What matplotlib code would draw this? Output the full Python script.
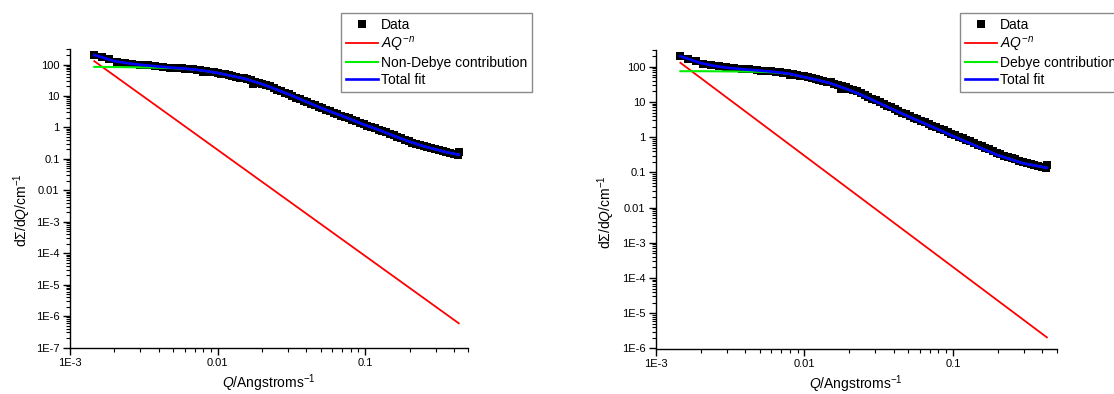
import matplotlib
matplotlib.use("Agg")
import matplotlib.pyplot as plt
from matplotlib.ticker import LogLocator, FixedLocator, FixedFormatter, NullFormatter

plt.rcParams['font.family'] = ['Liberation Sans', 'DejaVu Sans']
plt.rcParams['mathtext.fontset'] = 'custom'
plt.rcParams['mathtext.rm'] = 'Liberation Sans'
plt.rcParams['mathtext.it'] = 'Liberation Sans:italic'
plt.rcParams['mathtext.bf'] = 'Liberation Sans:bold'

# ---- measured data (shared by both panels) ----
q_data = [0.00146, 0.00165, 0.00185, 0.00208, 0.00234, 0.00264, 0.00297, 0.00335, 0.00377, 0.00424,
          0.00478, 0.0051, 0.0054, 0.0057, 0.0060, 0.0064, 0.0068, 0.0072, 0.0076, 0.0080,
          0.0084, 0.0089, 0.0094, 0.0100, 0.0106, 0.0112, 0.0119, 0.0126, 0.0134, 0.0142,
          0.0150, 0.0159, 0.0169, 0.0175, 0.0179, 0.0190, 0.0201, 0.0213, 0.0226, 0.0240,
          0.0254, 0.0270, 0.0286, 0.0303, 0.0321, 0.0341, 0.0361, 0.0383, 0.0406, 0.0430,
          0.0456, 0.0484, 0.0513, 0.0544, 0.0577, 0.0611, 0.0648, 0.0687, 0.0729, 0.0773,
          0.0819, 0.0869, 0.0921, 0.0977, 0.1036, 0.1098, 0.1164, 0.1234, 0.1309, 0.1388,
          0.1471, 0.156, 0.165, 0.175, 0.186, 0.197, 0.209, 0.222, 0.235, 0.249,
          0.264, 0.280, 0.297, 0.315, 0.334, 0.354, 0.375, 0.398, 0.422, 0.43]
i_data = [205, 172, 145, 124, 112, 104, 97, 93, 89, 85,
          80, 78.5, 77, 75.5, 74, 72, 70, 68, 66, 58,
          61, 59, 56.5, 54, 51, 48.5, 45.5, 43, 40.5, 38,
          36, 33.5, 31, 24, 28.5, 26.5, 24, 22, 20, 17.5,
          15.8, 14, 12.5, 11.2, 10, 8.9, 7.9, 7.0, 6.3, 5.6,
          5.0, 4.45, 4.0, 3.6, 3.25, 2.92, 2.63, 2.37, 2.13, 1.93,
          1.74, 1.56, 1.40, 1.25, 1.12, 1.02, 0.93, 0.84, 0.76, 0.69,
          0.62, 0.56, 0.50, 0.45, 0.40, 0.36, 0.33, 0.30, 0.28, 0.255,
          0.235, 0.218, 0.202, 0.188, 0.175, 0.163, 0.153, 0.144, 0.136, 0.16]

# ---- fit curves ----
q_fit = [0.00146, 0.0016, 0.0018, 0.002, 0.0025, 0.003, 0.004, 0.005, 0.006, 0.007,
         0.008, 0.01, 0.012, 0.015, 0.02, 0.025, 0.03, 0.04, 0.05, 0.06,
         0.07, 0.08, 0.1, 0.12, 0.15, 0.2, 0.25, 0.3, 0.35, 0.43]
total_left = [200, 178, 148, 128, 108, 98, 86, 79, 74, 69,
              64, 54, 45, 36, 24, 16, 11.5, 6.5, 4.2, 3.0,
              2.3, 1.8, 1.18, 0.88, 0.58, 0.35, 0.25, 0.2, 0.165, 0.135]
green_left = [84, 84, 83.5, 83, 82, 81, 79, 76.5, 73, 68.5,
              63.5, 53.8, 45, 36, 24, 16, 11.5, 6.5, 4.2, 3.0,
              2.3, 1.8, 1.18, 0.88, 0.58, 0.35, 0.25, 0.2, 0.165, 0.135]
total_right = [200, 175, 148, 128, 105, 94, 84, 78, 73, 68,
               63, 51, 43, 34, 22, 15, 10.5, 6.0, 3.9, 2.8,
               2.1, 1.65, 1.08, 0.78, 0.52, 0.31, 0.23, 0.18, 0.16, 0.135]
green_right = [75, 75, 75, 75, 74.5, 74, 73, 72, 70, 66.5,
               62, 50.5, 43, 34, 22, 15, 10.5, 6.0, 3.9, 2.8,
               2.1, 1.65, 1.08, 0.78, 0.52, 0.31, 0.23, 0.18, 0.16, 0.135]
q_power = [0.00146, 0.43]
power_left = [128, 5.9e-7]
power_right = [130, 2.07e-6]

labels_left = ['Data', r'$\mathit{AQ}^{\mathit{-n}}$', 'Non-Debye contribution', 'Total fit']
labels_right = ['Data', r'$\mathit{AQ}^{\mathit{-n}}$', 'Debye contribution', 'Total fit']

x_ticks = [1e-3, 1e-2, 1e-1]
x_ticklabels = ['1E-3', '0.01', '0.1']
y_ticks_left = [1e-7, 1e-6, 1e-5, 1e-4, 1e-3, 1e-2, 1e-1, 1, 10, 100]
y_ticklabels_left = ['1E-7', '1E-6', '1E-5', '1E-4', '1E-3', '0.01', '0.1', '1', '10', '100']
y_ticks_right = y_ticks_left[1:]
y_ticklabels_right = y_ticklabels_left[1:]

W, H = 1114, 394
fig = plt.figure(figsize=(W / 100, H / 100), dpi=100)

def make_panel(rect, total, green, power, labels, yticks, yticklabels, ymin, legend_x, ylab_x, ylab_y):
    ax = fig.add_axes(rect)
    ax.set_xscale('log')
    ax.set_yscale('log')
    hd, = ax.plot(q_data, i_data, 's', color='black', ms=5.6, mew=0, zorder=2)
    hr, = ax.plot(q_power, power, '-', color='#ff0000', lw=1.3, zorder=3)
    hg, = ax.plot(q_fit, green, '-', color='#00ee00', lw=1.5, zorder=3)
    hb, = ax.plot(q_fit, total, '-', color='#0000ff', lw=1.9, zorder=4)
    ax.set_xlim(1e-3, 0.5)
    ax.set_ylim(ymin, 300)
    for s in ('top', 'right'):
        ax.spines[s].set_visible(False)
    for s in ('left', 'bottom'):
        ax.spines[s].set_linewidth(1.0)
    ax.xaxis.set_major_locator(FixedLocator(x_ticks))
    ax.xaxis.set_major_formatter(FixedFormatter(x_ticklabels))
    ax.yaxis.set_major_locator(FixedLocator(yticks))
    ax.yaxis.set_major_formatter(FixedFormatter(yticklabels))
    ax.xaxis.set_minor_locator(LogLocator(base=10, subs=range(2, 10), numticks=50))
    ax.yaxis.set_minor_locator(LogLocator(base=10, subs=range(2, 10), numticks=50))
    ax.xaxis.set_minor_formatter(NullFormatter())
    ax.yaxis.set_minor_formatter(NullFormatter())
    ax.tick_params(which='major', direction='out', length=5, width=1, labelsize=8, pad=2.5)
    ax.tick_params(which='minor', direction='out', length=3, width=0.8)
    ax.set_xlabel(r'$\mathit{Q}$/Angstroms$^{-1}$', fontsize=10)
    ax.xaxis.set_label_coords(0.5, -0.082)
    ax.set_ylabel(r'd$\mathit{\Sigma}$/d$\mathit{Q}$/cm$^{-1}$', fontsize=10)
    ax.yaxis.set_label_coords(ylab_x, ylab_y)
    leg = ax.legend([hd, hr, hg, hb], labels, loc='upper left',
                    bbox_to_anchor=(legend_x, 1 - 13.3 / H), bbox_transform=fig.transFigure,
                    fontsize=10, frameon=True, fancybox=False, framealpha=1,
                    edgecolor='#8a8a8a', handlelength=2.3, handletextpad=0.25,
                    labelspacing=0.18, borderpad=0.35, borderaxespad=0, numpoints=1)
    leg.get_frame().set_linewidth(1.0)
    return ax

make_panel([70 / W, (H - 347.5) / H, 398.4 / W, 298 / H], total_left, green_left, power_left,
           labels_left, y_ticks_left, y_ticklabels_left, 1e-7, 341 / W, -0.093, 0.46)
make_panel([656 / W, (H - 348.5) / H, 400.6 / W, 298.5 / H], total_right, green_right, power_right,
           labels_right, y_ticks_right, y_ticklabels_right, 1e-6, 960 / W, -0.098, 0.458)

fig.savefig('out.png', dpi=100)
